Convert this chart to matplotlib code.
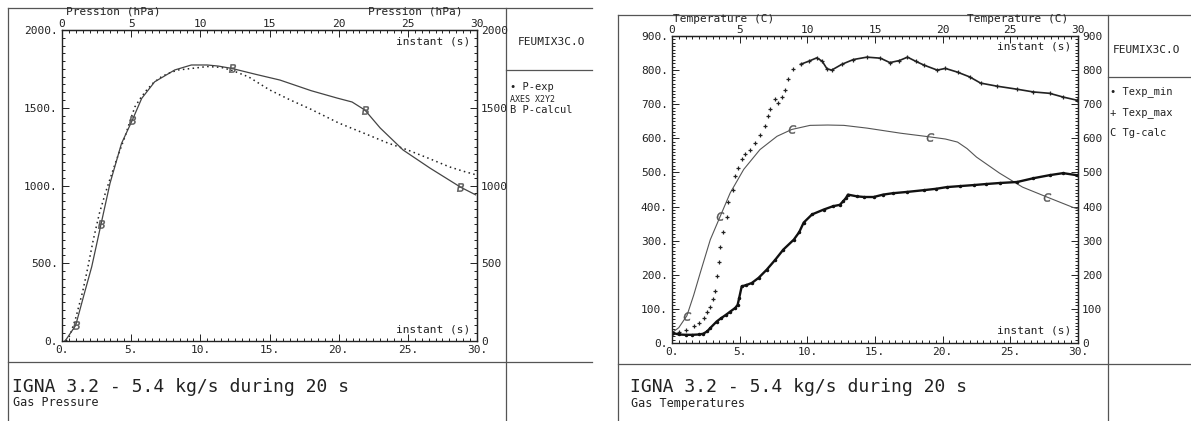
import matplotlib
matplotlib.use("Agg")
import matplotlib.pyplot as plt
from matplotlib.ticker import MultipleLocator, FixedLocator, FuncFormatter
import numpy as np

# --- Gas pressure (left panel) ---
t_pcalc = [0.2, 0.34, 0.99, 1.65, 2.15, 2.82, 3.47, 4.3, 5.08, 5.76, 6.7, 8.15,
           9.35, 10.5, 11.3, 12.27, 14.0, 15.76, 18.0, 19.9, 20.97, 21.9, 23.0,
           24.66, 26.6, 28.8, 29.9]
p_calc = [0, 15, 101, 317, 478, 751, 1014, 1270, 1420, 1560, 1667, 1743,
          1775, 1775, 1768, 1753, 1715, 1678, 1610, 1562, 1537, 1485, 1370,
          1228, 1112, 990, 940]
pcalc_marks = [2, 5, 8, 15, 21, 25]

t_pexp = [0.3, 0.58, 1.0, 1.5, 1.8, 2.26, 2.7, 3.13, 3.5, 3.85, 4.2, 4.55, 4.9,
          5.27, 5.7, 6.12, 6.6, 7.2, 7.8, 8.4, 9.4, 10.5, 11.5, 12.3, 13.5,
          15.0, 16.5, 18.0, 20.0, 22.0, 23.5, 25.0, 26.5, 28.0, 29.0, 30.0]
p_exp = [0, 37, 150, 320, 444, 650, 820, 950, 1050, 1142, 1230, 1313, 1410,
         1506, 1565, 1614, 1660, 1700, 1725, 1743, 1753, 1765, 1760, 1740, 1698,
         1615, 1550, 1490, 1402, 1330, 1275, 1228, 1175, 1120, 1092, 1067]

# --- Gas temperatures (right panel) ---
t_tg = [0.0, 0.5, 1.1, 1.6, 2.09, 2.83, 3.57, 4.3, 5.3, 6.5, 7.76, 8.85, 10.2,
        11.5, 12.7, 14.4, 16.9, 19.1, 20.2, 21.1, 21.8, 22.5, 24.2, 25.9, 27.7,
        29.6, 30.0]
tg_calc = [30, 45, 80, 140, 206, 303, 372, 440, 509, 567, 606, 626, 638,
           639, 638, 630, 615, 604, 598, 589, 570, 545, 498, 457, 428,
           398, 393]
tg_marks = [2, 6, 11, 17, 24]

t_tmax = [0.1, 0.5, 1.0, 1.6, 2.0, 2.35, 2.6, 2.83, 3.0, 3.15, 3.3, 3.45, 3.57,
          3.8, 4.05, 4.16, 4.5, 4.68, 4.9, 5.17, 5.4, 5.8, 6.15, 6.52, 6.9, 7.1,
          7.26, 7.6, 7.85, 8.1, 8.37, 8.6, 8.97, 9.5, 10.1, 10.7, 11.1, 11.45,
          11.8, 12.55, 13.4, 14.4, 15.4, 16.1, 16.8, 17.4, 18.0, 18.6, 19.6,
          20.2, 21.1, 22.0, 22.8, 24.0, 25.5, 26.7, 27.9, 28.9, 29.9]
texp_max = [29, 33, 38, 49, 58, 74, 90, 107, 128, 151, 195, 237, 281,
            326, 370, 413, 450, 489, 514, 538, 553, 567, 586, 611, 636, 665,
            685, 714, 705, 720, 743, 773, 802, 817, 826, 836, 826, 804,
            800, 817, 831, 838, 835, 822, 828, 838, 826, 815, 800,
            805, 794, 780, 762, 753, 744, 736, 732, 721, 712]

t_tmin = [0.1, 0.5, 1.0, 1.5, 2.0, 2.3, 2.6, 2.83, 3.3, 3.6, 4.0, 4.3, 4.68,
          4.85, 4.97, 5.15, 5.5, 5.9, 6.4, 7.0, 7.63, 8.23, 9.0, 9.4, 9.73,
          10.35, 11.2, 11.9, 12.4, 12.66, 12.85, 13.0, 13.65, 14.2, 14.9, 15.6,
          16.3, 17.4, 18.6, 19.5, 20.3, 21.3, 22.3, 23.2, 24.2, 25.5, 26.7,
          27.9, 28.9, 29.9]
texp_min = [29, 25, 24, 24, 25, 27, 34, 44, 63, 72, 83, 92, 103,
            112, 133, 166, 170, 176, 191, 215, 244, 274, 303, 325, 353,
            377, 391, 401, 405, 416, 425, 435, 430, 428, 428, 435,
            439, 443, 448, 452, 457, 460, 463, 466, 469, 472, 483,
            492, 498, 492]

x_ticks = [0, 5, 10, 15, 20, 25, 30]
p_ticks = [0, 500, 1000, 1500, 2000]
t_ticks = [0, 100, 200, 300, 400, 500, 600, 700, 800, 900]

W, H = 1191, 421
FONT = "DejaVu Sans Mono"
INK = "#222222"
plt.rcParams["font.family"] = FONT

fig = plt.figure(figsize=(W / 100, H / 100), dpi=100)
bg = fig.add_axes([0, 0, 1, 1])
bg.set_xlim(0, W)
bg.set_ylim(H, 0)
bg.axis("off")


def box(x0, y0, x1, y1):
    return [x0 / W, 1 - y1 / H, (x1 - x0) / W, (y1 - y0) / H]


dotfmt = FuncFormatter(lambda v, p: f"{v:g}.")
plainfmt = FuncFormatter(lambda v, p: f"{v:g}")


def setup_axes(ax, yticks, yminor):
    ax.set_xlim(0, 30)
    ax.set_ylim(0, yticks[-1])
    for s in ax.spines.values():
        s.set_color(INK)
        s.set_linewidth(1.0)
    ax.xaxis.set_major_locator(FixedLocator(x_ticks))
    ax.xaxis.set_minor_locator(MultipleLocator(0.5))
    ax.yaxis.set_major_locator(FixedLocator(yticks))
    ax.yaxis.set_minor_locator(MultipleLocator(yminor))
    ax.xaxis.set_major_formatter(dotfmt)
    ax.yaxis.set_major_formatter(dotfmt)
    ax.tick_params(which="both", direction="in", colors=INK, labelsize=8,
                   width=0.7)
    ax.tick_params(which="major", length=5, pad=3)
    ax.tick_params(which="minor", length=2.5)
    top = ax.secondary_xaxis("top")
    top.xaxis.set_major_locator(FixedLocator(x_ticks))
    top.xaxis.set_minor_locator(MultipleLocator(0.5))
    top.xaxis.set_major_formatter(plainfmt)
    right = ax.secondary_yaxis("right")
    right.yaxis.set_major_locator(FixedLocator(yticks))
    right.yaxis.set_minor_locator(MultipleLocator(yminor))
    right.yaxis.set_major_formatter(plainfmt)
    for sec in (top, right):
        sec.tick_params(which="both", direction="in", colors=INK, labelsize=8,
                        width=0.7)
        sec.tick_params(which="major", length=5, pad=1)
        sec.tick_params(which="minor", length=2.5)
        for s in sec.spines.values():
            s.set_color(INK)
    right.tick_params(which="major", pad=3)
    ax.patch.set_alpha(0)


# ---------------- left panel ----------------
axp = fig.add_axes(box(62, 30, 477, 341))
setup_axes(axp, p_ticks, 50)
axp.plot(t_pexp, p_exp, ls=(0, (1, 2.2)), lw=1.1, color=INK)
axp.plot(t_pcalc, p_calc, lw=0.9, color="#444444", marker="$B$", ms=6,
         markevery=pcalc_marks, mec="#555555", mfc="#555555", mew=0.3)
axp.text(29.5, 1960, "instant (s)", ha="right", va="top", fontsize=8, color=INK)
axp.text(29.5, 40, "instant (s)", ha="right", va="bottom", fontsize=8, color=INK)

# frame lines
fc = "#555555"
for xs, ys in [([8, 8], [8, H]), ([8, 592], [8, 8]), ([8, 592], [362, 362]),
               ([506, 506], [8, H]), ([506, 592], [70, 70])]:
    bg.plot(xs, ys, color=fc, lw=0.9)
bg.text(66, 11, "Pression (hPa)", fontsize=8, color=INK, va="center")
bg.text(368, 11, "Pression (hPa)", fontsize=8, color=INK, va="center")
bg.text(518, 42, "FEUMIX3C.O", fontsize=8, color=INK, va="center")
bg.text(510, 87, "\u2022 P-exp", fontsize=7.5, color=INK, va="center")
bg.text(510, 99, "AXES X2Y2", fontsize=6, color=INK, va="center")
bg.text(510, 110, "B P-calcul", fontsize=7.5, color=INK, va="center")
bg.text(12, 392, "IGNA 3.2 - 5.4 kg/s during 20 s", fontsize=13, color=INK,
        va="baseline")
bg.text(13, 406, "Gas Pressure", fontsize=8.5, color=INK, va="baseline")

# ---------------- right panel ----------------
axt = fig.add_axes(box(672, 36, 1078, 343))
setup_axes(axt, t_ticks, 10)
axt.plot(t_tg, tg_calc, lw=0.8, color="#555555", marker="$C$", ms=6,
         markevery=tg_marks, mec="#555555", mfc="#555555", mew=0.3)
tmax_t = np.array(t_tmax)
tmax_v = np.array(texp_max)
axt.plot(tmax_t, tmax_v, ls="none", marker="+", ms=3.5, mew=0.9, color=INK)
axt.plot(tmax_t[tmax_t >= 9], tmax_v[tmax_t >= 9], lw=1.2, color=INK)
axt.plot(t_tmin, texp_min, lw=1.7, color="#111111", marker=".", ms=3)
axt.text(29.5, 885, "instant (s)", ha="right", va="top", fontsize=8, color=INK)
axt.text(29.5, 22, "instant (s)", ha="right", va="bottom", fontsize=8, color=INK)

for xs, ys in [([618, 618], [15, H]), ([618, W], [15, 15]), ([618, W], [364, 364]),
               ([1108, 1108], [15, H]), ([1108, W], [77, 77])]:
    bg.plot(xs, ys, color=fc, lw=0.9)
bg.text(673, 19, "Temperature (C)", fontsize=8, color=INK, va="center")
bg.text(967, 19, "Temperature (C)", fontsize=8, color=INK, va="center")
bg.text(1113, 50, "FEUMIX3C.O", fontsize=8, color=INK, va="center")
bg.text(1110, 92, "\u2022 Texp_min", fontsize=7.5, color=INK, va="center")
bg.text(1110, 113, "+ Texp_max", fontsize=7.5, color=INK, va="center")
bg.text(1110, 133, "C Tg-calc", fontsize=7.5, color=INK, va="center")
bg.text(630, 392, "IGNA 3.2 - 5.4 kg/s during 20 s", fontsize=13, color=INK,
        va="baseline")
bg.text(631, 407, "Gas Temperatures", fontsize=8.5, color=INK, va="baseline")

fig.savefig("out.png", dpi=100, facecolor="white")
